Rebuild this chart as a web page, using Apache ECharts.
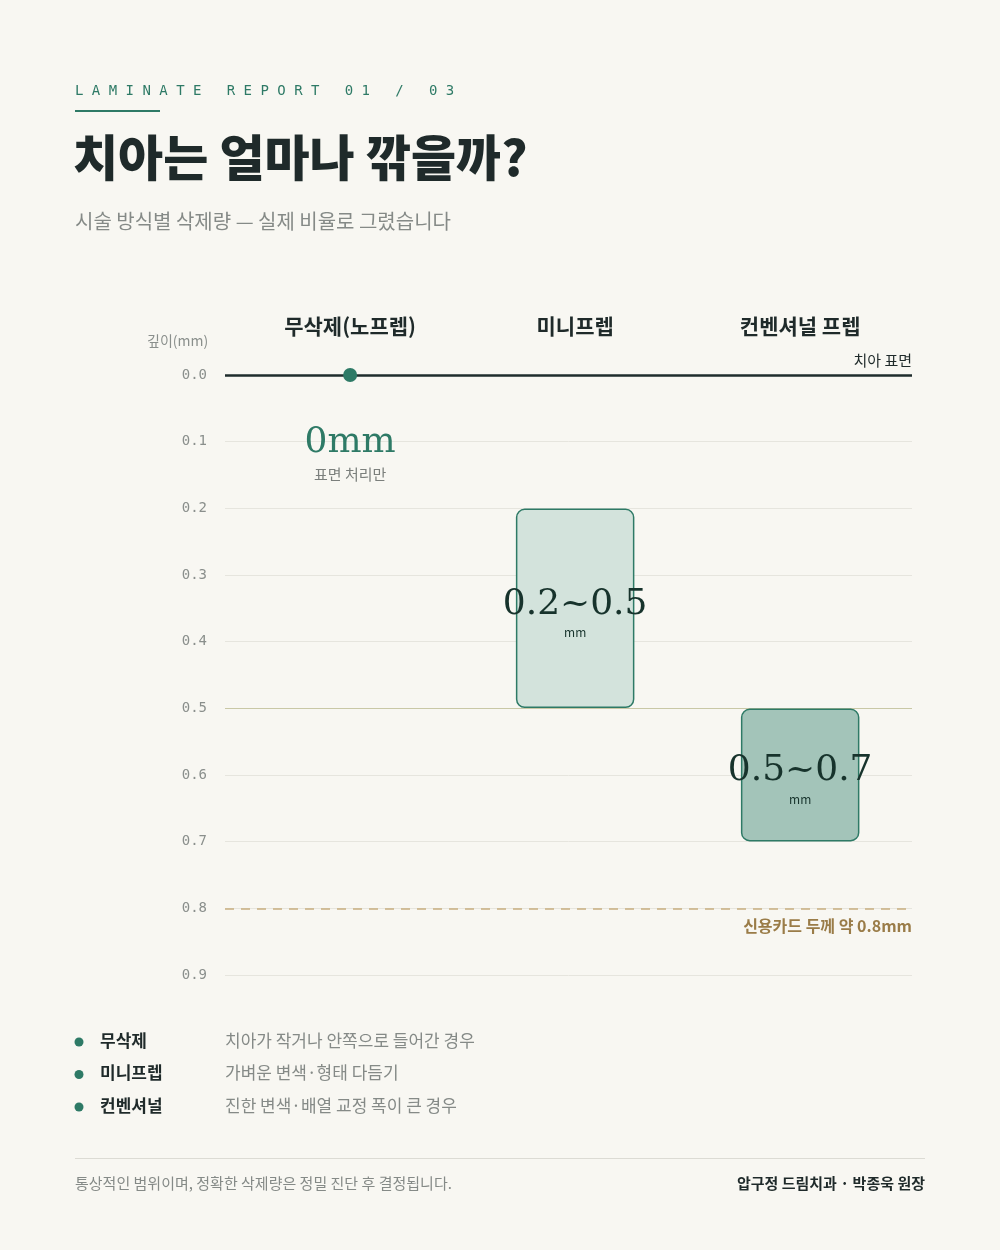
<!DOCTYPE html>
<html><head><meta charset="utf-8">
<script src="https://cdn.jsdelivr.net/npm/echarts@6/dist/echarts.min.js"></script>
<style>html,body{margin:0;background:#f8f7f2}#c{width:1000px;height:1250px}</style>
</head><body><div id="c"></div>
<script>
const KR = '"Noto Sans CJK KR", "Noto Sans", sans-serif'
const MONO = '"DejaVu Sans Mono", monospace'
const SERIF = '"DejaVu Serif", "Liberation Serif", serif'

const categories = ['무삭제(노프렙)', '미니프렙', '컨벤셔널 프렙']
const depthFrom = [0, 0.2, 0.5]
const depthTo = [0, 0.5, 0.7]
const rangeLabels = ['0mm', '0.2~0.5', '0.5~0.7']
const yTicks = [0, 0.1, 0.2, 0.3, 0.4, 0.5, 0.6, 0.7, 0.8, 0.9]
const legendNames = ['무삭제', '미니프렙', '컨벤셔널']
const legendDesc = ['치아가 작거나 안쪽으로 들어간 경우', '가벼운 변색·형태 다듬기', '진한 변색·배열 교정 폭이 큰 경우']
const fills = ['#2e7a66', '#d3e3dc', '#a3c4b9']

const chart = echarts.init(document.getElementById('c'))

// x positions: category centres in a 0..3.053 value axis
const xPos = categories.map((_, i) => i + 0.556)

chart.setOption({
  backgroundColor: '#f8f7f2',
  animation: false,
  grid: {left: 225, right: 88, top: 375, bottom: 275},
  xAxis: {type: 'value', min: 0, max: 3.053, show: false},
  yAxis: {
    type: 'value', inverse: true, min: 0, max: 0.9, interval: 0.1,
    axisLine: {show: false}, axisTick: {show: false},
    axisLabel: {fontFamily: MONO, color: '#8a8f8c', fontSize: 14, margin: 18, formatter: v => v.toFixed(1)},
    splitLine: {lineStyle: {color: '#e6e5de', width: 1}}
  },
  series: [{
    type: 'custom',
    data: categories.map((c, i) => [xPos[i], depthFrom[i], depthTo[i], i]),
    renderItem: (params, api) => {
      const i = api.value(3)
      const top = api.coord([api.value(0), api.value(1)])
      const bot = api.coord([api.value(0), api.value(2)])
      const head = {type: 'text', style: {text: categories[i], x: top[0], y: 326, align: 'center', verticalAlign: 'middle', font: '600 21px ' + KR, fill: '#1f2a2a'}}
      if (i === 0) {
        return {type: 'group', children: [head,
          {type: 'circle', shape: {cx: top[0], cy: top[1], r: 7}, style: {fill: fills[0]}, z2: 10},
          {type: 'text', style: {text: rangeLabels[i], x: top[0], y: 443, align: 'center', verticalAlign: 'middle', font: '36px ' + SERIF, fill: '#2e7a66'}},
          {type: 'text', style: {text: '표면 처리만', x: top[0], y: 474, align: 'center', verticalAlign: 'middle', font: '15px ' + KR, fill: '#7b7f7c'}}
        ]}
      }
      const w = 117
      const mid = (top[1] + bot[1]) / 2
      return {type: 'group', children: [head,
        {type: 'rect', shape: {x: top[0] - w / 2, y: top[1] + 1, width: w, height: bot[1] - top[1] - 2, r: 8},
          style: {fill: fills[i], stroke: '#2e7a66', lineWidth: 1.5}},
        {type: 'text', style: {text: rangeLabels[i], x: top[0], y: mid - 4, align: 'center', verticalAlign: 'middle', font: '36px ' + SERIF, fill: '#17332c'}},
        {type: 'text', style: {text: 'mm', x: top[0], y: mid + 24, align: 'center', verticalAlign: 'middle', font: '12px ' + KR, fill: '#17332c'}}
      ]}
    },
    markLine: {
      silent: true, symbol: 'none',
      data: [
        {yAxis: 0, lineStyle: {color: '#1f2d2d', width: 2.5, type: 'solid'}, label: {show: false}},
        {yAxis: 0.5, lineStyle: {color: '#c9c8a6', width: 1.2, type: 'solid'}, label: {show: false}},
        {yAxis: 0.8, lineStyle: {color: '#c8ae80', width: 1.5, type: [9, 7]}, label: {show: false}}
      ]
    },
    z: 5
  }],
  graphic: [
    {type: 'text', left: 75, top: 84, style: {text: 'L A M I N A T E   R E P O R T   0 1   /   0 3', font: '14px ' + MONO, fill: '#2e7a66'}},
    {type: 'rect', shape: {x: 75, y: 110, width: 85, height: 2}, style: {fill: '#2e7a66'}},
    {type: 'text', left: 73, top: 133, style: {text: '치아는 얼마나 깎을까?', font: '800 49px ' + KR, fill: '#1f2a2a'}},
    {type: 'text', left: 75, top: 211, style: {text: '시술 방식별 삭제량 — 실제 비율로 그렸습니다', font: '20px ' + KR, fill: '#858a87'}},
    {type: 'text', left: 147, top: 334, style: {text: '깊이(mm)', font: '14px ' + KR, fill: '#8a8f8c'}},
    {type: 'text', right: 88, top: 353, style: {text: '치아 표면', font: '15px ' + KR, fill: '#1f2a2a', align: 'right'}},
    {type: 'text', right: 88, top: 918, style: {text: '신용카드 두께 약 0.8mm', font: '600 16px ' + KR, fill: '#9a7c48', align: 'right'}},
    ...legendNames.flatMap((n, i) => [
      {type: 'circle', shape: {cx: 79, cy: 1042 + i * 32.5, r: 4.5}, style: {fill: '#2e7a66'}},
      {type: 'text', left: 100, top: 1032 + i * 32.5, style: {text: n, font: '600 17px ' + KR, fill: '#1f2a2a'}},
      {type: 'text', left: 225, top: 1032 + i * 32.5, style: {text: legendDesc[i], font: '17px ' + KR, fill: '#858a87'}}
    ]),
    {type: 'rect', shape: {x: 75, y: 1158, width: 850, height: 1}, style: {fill: '#dcdbd4'}},
    {type: 'text', left: 75, top: 1176, style: {text: '통상적인 범위이며, 정확한 삭제량은 정밀 진단 후 결정됩니다.', font: '15px ' + KR, fill: '#858a87'}},
    {type: 'text', right: 75, top: 1176, style: {text: '압구정 드림치과 · 박종욱 원장', font: '600 15px ' + KR, fill: '#1f2a2a', align: 'right'}}
  ]
})
</script></body></html>
